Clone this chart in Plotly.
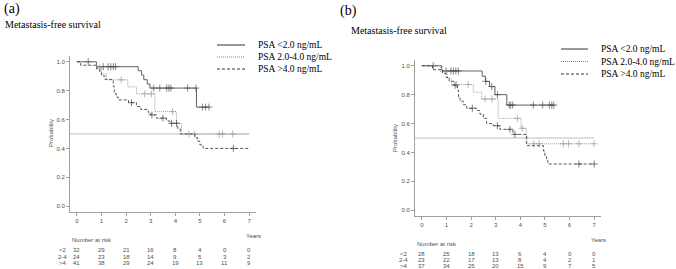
import plotly.graph_objects as go

W, H = 676, 269

# ---------------- data ----------------
YEARS = [0, 1, 2, 3, 4, 5, 6, 7]
PROB_TICKS = [0.0, 0.2, 0.4, 0.6, 0.8, 1.0]
GROUPS = ["<2", "2-4", ">4"]
LEGEND_LABELS = ["PSA <2.0 ng/mL", "PSA 2.0-4.0 ng/mL", "PSA >4.0 ng/mL"]
REF_LEVEL = 0.5

# Panel (a)
a_lt2_time = [0, 0.80, 2.49, 2.63, 2.72, 2.86, 2.97, 4.86, 5.37]
a_lt2_surv = [1.0, 0.966, 0.938, 0.908, 0.876, 0.846, 0.818, 0.686, 0.686]
a_lt2_cens = [0.46, 1.07, 1.27, 1.38, 1.48, 1.57, 3.12, 3.37, 3.65, 3.74, 3.82, 4.50, 4.84, 5.10, 5.23, 5.37]

a_mid_time = [0, 0.80, 1.00, 1.20, 2.07, 2.42, 3.17, 4.05, 4.25, 7.0]
a_mid_surv = [1.0, 0.958, 0.917, 0.875, 0.826, 0.778, 0.655, 0.574, 0.500, 0.500]
a_mid_cens = [0.93, 1.80, 2.76, 3.03, 3.88, 4.55, 4.77, 5.78, 5.92, 6.33]

a_gt4_time = [0, 0.15, 0.80, 0.93, 1.00, 1.14, 1.48, 1.52, 1.60, 1.68, 2.10, 2.42, 2.60, 2.90, 3.00,
              3.24, 3.64, 3.78, 4.10, 4.20, 4.80, 4.90, 5.00, 5.13, 7.0]
a_gt4_surv = [1.0, 0.976, 0.951, 0.927, 0.902, 0.878, 0.830, 0.780, 0.756, 0.736, 0.717, 0.690, 0.670,
              0.650, 0.632, 0.610, 0.590, 0.574, 0.537, 0.500, 0.475, 0.450, 0.425, 0.400, 0.400]
a_gt4_cens = [2.22, 3.05, 3.50, 3.85, 4.05, 6.36]

a_risk_lt2 = [32, 29, 21, 16, 8, 4, 0, 0]
a_risk_mid = [24, 23, 18, 14, 9, 5, 3, 2]
a_risk_gt4 = [41, 38, 29, 24, 19, 13, 11, 9]

# Panel (b)
b_lt2_time = [0, 0.81, 2.45, 2.58, 2.75, 2.97, 3.45, 5.36]
b_lt2_surv = [1.0, 0.964, 0.928, 0.892, 0.856, 0.800, 0.728, 0.728]
b_lt2_cens = [0.46, 0.98, 1.18, 1.28, 1.38, 1.48, 2.60, 2.84, 3.07, 3.55, 3.61, 3.69, 4.53, 4.91, 5.18, 5.28, 5.36]

b_mid_time = [0, 0.76, 1.03, 1.20, 2.09, 2.43, 3.10, 4.03, 4.24, 7.0]
b_mid_surv = [1.0, 0.957, 0.913, 0.870, 0.817, 0.770, 0.636, 0.567, 0.460, 0.460]
b_mid_cens = [1.41, 1.88, 2.57, 2.85, 3.88, 4.08, 4.55, 4.77, 5.75, 5.96, 6.38, 7.0]

b_gt4_time = [0, 0.43, 0.84, 0.98, 1.11, 1.30, 1.45, 1.49, 1.55, 1.68, 1.82, 2.22, 2.36, 2.50, 2.63,
              2.90, 3.17, 3.70, 4.26, 4.94, 5.00, 5.07, 5.12, 7.0]
b_gt4_surv = [1.0, 0.973, 0.946, 0.919, 0.892, 0.865, 0.830, 0.780, 0.755, 0.730, 0.706, 0.690, 0.665,
              0.636, 0.600, 0.585, 0.560, 0.525, 0.447, 0.410, 0.370, 0.345, 0.320, 0.320]
b_gt4_cens = [1.35, 2.05, 3.07, 3.58, 3.78, 6.38, 7.0]

b_risk_lt2 = [28, 25, 18, 13, 6, 4, 0, 0]
b_risk_mid = [23, 22, 17, 13, 8, 4, 2, 1]
b_risk_gt4 = [37, 34, 25, 20, 15, 9, 7, 5]

# ---------------- styles ----------------
STYLE = {
    "<2": dict(color="#505050", dash="solid", width=0.9),
    "2-4": dict(color="#9a9a9a", dash="1px,1px", width=0.9),
    ">4": dict(color="#454545", dash="3px,2px", width=0.9),
}
LEGEND_COLOR = {"<2": "#333333", "2-4": "#888888", ">4": "#333333"}
SERIF = "Liberation Serif, Times New Roman, serif"
SANS = "Liberation Sans, Arial, sans-serif"
AXIS_COLOR = "#a0a0a0"
TEXT_GRAY = "#505050"


def px(X):
    return X / W


def py(Y):
    return 1 - Y / H


def step_at(times, surv, c):
    val = surv[0]
    for t, s in zip(times, surv):
        if t <= c:
            val = s
    return val


fig = go.Figure()

panels = [
    dict(xa="x", ya="y",
         curves=[(a_lt2_time, a_lt2_surv, a_lt2_cens), (a_mid_time, a_mid_surv, a_mid_cens),
                 (a_gt4_time, a_gt4_surv, a_gt4_cens)],
         risk=[a_risk_lt2, a_risk_mid, a_risk_gt4]),
    dict(xa="x2", ya="y2",
         curves=[(b_lt2_time, b_lt2_surv, b_lt2_cens), (b_mid_time, b_mid_surv, b_mid_cens),
                 (b_gt4_time, b_gt4_surv, b_gt4_cens)],
         risk=[b_risk_lt2, b_risk_mid, b_risk_gt4]),
]

for p in panels:
    # reference line
    fig.add_trace(go.Scatter(x=[-0.28, YEARS[-1]], y=[REF_LEVEL, REF_LEVEL], mode="lines",
                             line=dict(color="#bdbdbd", width=1), xaxis=p["xa"], yaxis=p["ya"],
                             hoverinfo="skip", showlegend=False))
    for g, (t, s, c) in zip(GROUPS, p["curves"]):
        st = STYLE[g]
        fig.add_trace(go.Scatter(x=t, y=s, mode="lines", line_shape="hv",
                                 line=dict(color=st["color"], width=st["width"], dash=st["dash"]),
                                 xaxis=p["xa"], yaxis=p["ya"], showlegend=False))
        fig.add_trace(go.Scatter(x=c, y=[step_at(t, s, ci) for ci in c], mode="markers",
                                 marker=dict(symbol="cross-thin", size=5,
                                             line=dict(color=st["color"], width=0.7)),
                                 xaxis=p["xa"], yaxis=p["ya"], showlegend=False))

axis_common = dict(showline=True, linecolor=AXIS_COLOR, linewidth=1, ticks="outside", ticklen=3,
                   tickcolor=AXIS_COLOR, tickwidth=1, showgrid=False, zeroline=False,
                   tickfont=dict(family=SANS, size=6, color=TEXT_GRAY))

fig.update_layout(
    width=W, height=H, margin=dict(l=0, r=0, t=0, b=0),
    paper_bgcolor="white", plot_bgcolor="white",
    xaxis=dict(domain=[px(70), px(256)], range=[-0.28, 7.28], anchor="y", tickvals=YEARS, **axis_common),
    yaxis=dict(domain=[py(212), py(56)], range=[-0.04, 1.04], anchor="x", tickvals=PROB_TICKS,
               ticktext=[f"{v:.1f}" for v in PROB_TICKS], **axis_common),
    xaxis2=dict(domain=[px(415), px(601)], range=[-0.28, 7.28], anchor="y2", tickvals=YEARS, **axis_common),
    yaxis2=dict(domain=[py(216), py(60)], range=[-0.04, 1.04], anchor="x2", tickvals=PROB_TICKS,
                ticktext=[f"{v:.1f}" for v in PROB_TICKS], **axis_common),
)

ann = []
shapes = []


def text(X, Y, s, size, family, color="black", xanchor="left", angle=0, xref="paper", xval=None):
    ann.append(dict(x=xval if xval is not None else px(X), y=py(Y), xref=xref, yref="paper", text=s,
                    showarrow=False, xanchor=xanchor, yanchor="middle", textangle=angle,
                    font=dict(family=family, size=size, color=color)))


layout_px = [
    dict(label=(2, 9, "(a)"), sub=(3, 25), leg_x=(217, 245, 256), leg_y=[45, 57, 69],
         prob=(51, 133), nar=(70, 240), years=(253, 236), row_x=69, row_y=[250.5, 256.7, 262.7], xref="x"),
    dict(label=(338, 11, "(b)"), sub=(349, 30), leg_x=(561, 588, 599), leg_y=[49, 61.5, 74],
         prob=(395, 138), nar=(415, 244), years=(598, 239.5), row_x=410, row_y=[254, 260, 265.7], xref="x2"),
]

for L, p in zip(layout_px, panels):
    text(L["label"][0], L["label"][1], L["label"][2], 14, SERIF)
    text(L["sub"][0], L["sub"][1], "Metastasis-free survival", 10, SERIF)
    x0, x1, xt = L["leg_x"]
    for g, lab, yy in zip(GROUPS, LEGEND_LABELS, L["leg_y"]):
        st = STYLE[g]
        shapes.append(dict(type="line", xref="paper", yref="paper", x0=px(x0), x1=px(x1), y0=py(yy), y1=py(yy),
                           line=dict(color=LEGEND_COLOR[g], width=1, dash=st["dash"])))
        text(xt, yy, lab, 9.5, SERIF)
    text(L["prob"][0], L["prob"][1], "Probability", 6, SANS, color=TEXT_GRAY, xanchor="center", angle=-90)
    text(L["nar"][0], L["nar"][1], "Number at risk", 6, SANS, color=TEXT_GRAY)
    text(L["years"][0], L["years"][1], "Years", 6, SANS, color=TEXT_GRAY, xanchor="center")
    for g, row, yy in zip(GROUPS, p["risk"], L["row_y"]):
        text(L["row_x"], yy, g, 6, SANS, color=TEXT_GRAY, xanchor="right")
        for yr, n in zip(YEARS, row):
            text(0, yy, str(n), 6, SANS, color=TEXT_GRAY, xanchor="center", xref=L["xref"], xval=yr)

fig.update_layout(annotations=ann, shapes=shapes)
fig.write_html("out.html", config={"displayModeBar": False},
               post_script="document.body.style.margin='0';document.body.style.overflow='hidden';")
